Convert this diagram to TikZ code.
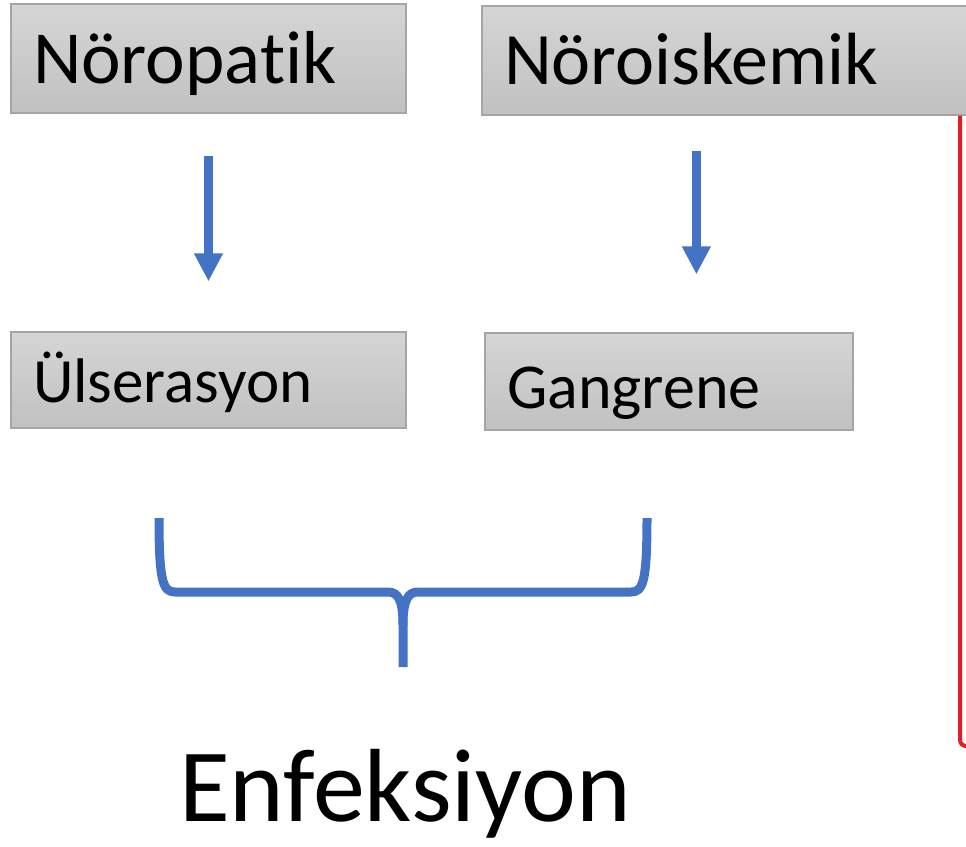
\documentclass[tikz,border=0pt]{standalone}
\usepackage{fontspec}
\setmainfont[Ligatures=NoCommon]{Carlito}
\usetikzlibrary{arrows.meta}
\definecolor{myblue}{RGB}{68,114,196}
\definecolor{myred}{RGB}{226,30,40}
\definecolor{boxtop}{RGB}{213,213,213}
\definecolor{boxbot}{RGB}{193,193,193}
\definecolor{boxline}{RGB}{165,165,165}

\begin{document}
\begin{tikzpicture}[x=1pt, y=-1pt,
    box/.style={draw=boxline, line width=1.2pt, top color=boxtop, bottom color=boxbot,
        inner xsep=22pt, inner ysep=0pt, align=left, text depth=0pt},
    flow/.style={draw=myblue, line width=9pt, -{Triangle[width=27pt, length=28pt]}},
    brace/.style={draw=myblue, line width=9pt, line join=round}]
    \clip (0,0) rectangle (966,846);

    % Boxes
    \begin{scope}
        \node[box, text width=351pt, minimum height=109pt, text height=49pt,
            font=\fontsize{75}{80}\selectfont] (neu) at (208.5,58.5) {Nöropatik};
        \node[box, text width=454pt, minimum height=109pt, text height=47pt,
            font=\fontsize{74}{80}\selectfont] (nis) at (731,60.5) {Nöroiskemik};
        \node[box, text width=351pt, minimum height=96pt, text height=44pt,
            font=\fontsize{63}{70}\selectfont] (uls) at (208.5,380) {Ülserasyon};
        \node[box, text width=324pt, minimum height=97pt, text height=54pt,
            font=\fontsize{64}{70}\selectfont] (gan) at (669,381.5) {Gangrene};
    \end{scope}

    % Arrows
    \draw[flow] ([yshift=-42pt]neu.south) -- ([yshift=50pt]uls.north);
    \draw[flow] ([xshift=215pt, yshift=-35pt]nis.south west) -- ([xshift=212pt, yshift=58pt]gan.north west);

    % Brace
    \draw[brace] (159,518) .. controls (159,582) and (163,592) .. (175,592) -- (388,592)
        .. controls (398,592) and (403,600) .. (403,625) -- (403,667);
    \draw[brace] (647,518) .. controls (647,582) and (643,592) .. (631,592) -- (418,592)
        .. controls (408,592) and (403,600) .. (403,625);

    \node[anchor=base, inner sep=0pt, font=\fontsize{104}{110}\selectfont] (enf) at (405,821) {Enfeksiyon};

    % Red frame
    \draw[myred, line width=4pt, rounded corners=6pt] (960,0 |- nis.south) -- (960,746) -- (980,746);
\end{tikzpicture}
\end{document}
